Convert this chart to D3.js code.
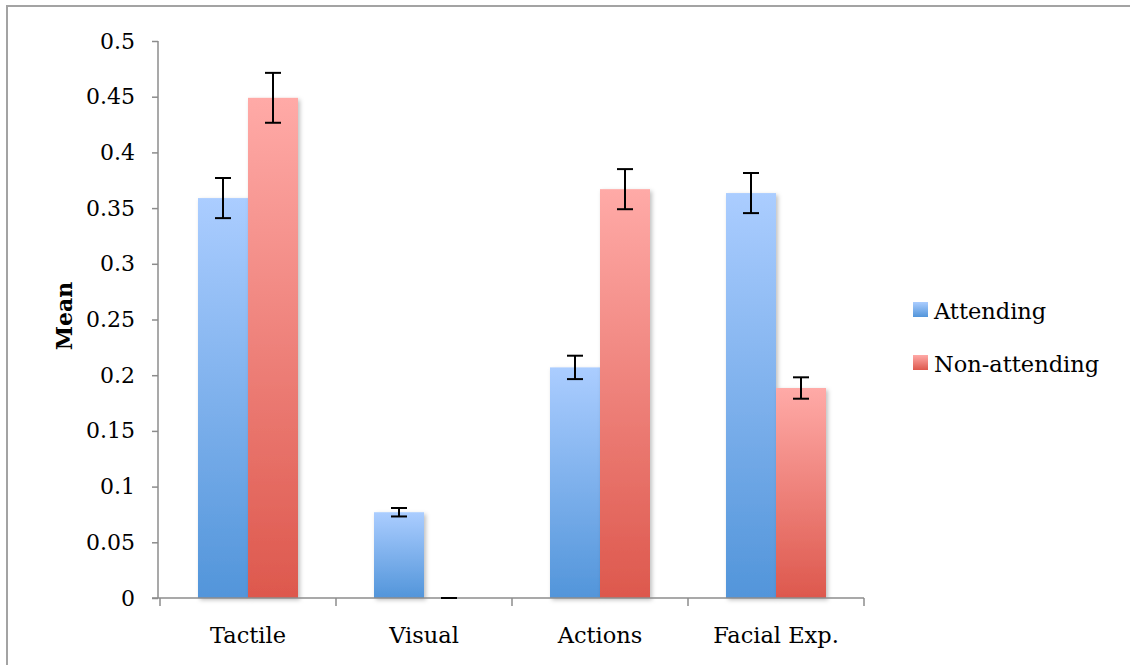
<!DOCTYPE html>
<html>
<head>
<meta charset="utf-8">
<script src="https://cdn.jsdelivr.net/npm/d3@7"></script>
<style>
  html, body { margin: 0; padding: 0; background: #fff; }
  svg { display: block; }
  text { font-family: "DejaVu Serif", serif; fill: #000; }
</style>
</head>
<body>
<svg id="chart" width="1130" height="665"></svg>
<script>
const categories = ["Tactile", "Visual", "Actions", "Facial Exp."];
const seriesNames = ["Attending", "Non-attending"];
const attending = [0.359, 0.077, 0.207, 0.3635];
const attendingErr = [0.018, 0.0038, 0.0105, 0.018];
const nonAttending = [0.449, 0.0, 0.367, 0.1885];
const nonAttendingErr = [0.0224, 0.0, 0.018, 0.0096];
const yTicks = [0, 0.05, 0.1, 0.15, 0.2, 0.25, 0.3, 0.35, 0.4, 0.45, 0.5];

const svg = d3.select("#chart");
const W = 1130, H = 665;

const x0 = 160, x1 = 864, yTop = 41, yBottom = 598;

const defs = svg.append("defs");
const gradBlue = defs.append("linearGradient").attr("id", "gBlue")
  .attr("x1", 0).attr("y1", 0).attr("x2", 0).attr("y2", 1);
gradBlue.append("stop").attr("offset", "0%").attr("stop-color", "#abcdff");
gradBlue.append("stop").attr("offset", "100%").attr("stop-color", "#5295da");
const gradRed = defs.append("linearGradient").attr("id", "gRed")
  .attr("x1", 0).attr("y1", 0).attr("x2", 0).attr("y2", 1);
gradRed.append("stop").attr("offset", "0%").attr("stop-color", "#ffaaa7");
gradRed.append("stop").attr("offset", "100%").attr("stop-color", "#dd584d");
const shadow = defs.append("filter").attr("id", "shadow")
  .attr("x", "-20%").attr("y", "-20%").attr("width", "150%").attr("height", "150%");
shadow.append("feDropShadow").attr("dx", 2).attr("dy", 2).attr("stdDeviation", 2)
  .attr("flood-color", "#000").attr("flood-opacity", 0.25);

// outer frame (top and left only visible)
svg.append("line").attr("x1", 6).attr("x2", W).attr("y1", 6).attr("y2", 6)
  .attr("stroke", "#a3a3a3").attr("stroke-width", 2);
svg.append("line").attr("x1", 7).attr("x2", 7).attr("y1", 5).attr("y2", H)
  .attr("stroke", "#a3a3a3").attr("stroke-width", 2);

const x = d3.scaleBand().domain(categories).range([x0, x1]).paddingInner(0).paddingOuter(0);
// inner group: 100px wide centered in 176px band
const groupW = x.bandwidth() * (100 / 176);
const xInner = d3.scaleBand().domain(seriesNames)
  .range([(x.bandwidth() - groupW) / 2, (x.bandwidth() + groupW) / 2]);
const y = d3.scaleLinear().domain([0, 0.5]).range([yBottom, yTop]);

// bars
const data = [];
categories.forEach((c, i) => {
  data.push({ cat: c, s: seriesNames[0], v: attending[i], e: attendingErr[i], fill: "url(#gBlue)" });
  data.push({ cat: c, s: seriesNames[1], v: nonAttending[i], e: nonAttendingErr[i], fill: "url(#gRed)" });
});

svg.append("g").selectAll("rect").data(data.filter(d => d.v > 0)).join("rect")
  .attr("x", d => x(d.cat) + xInner(d.s))
  .attr("y", d => y(d.v))
  .attr("width", xInner.bandwidth())
  .attr("height", d => y(0) - y(d.v))
  .attr("fill", d => d.fill)
  .attr("filter", "url(#shadow)");

// axes
const axisColor = "#8c8c8c";
const yAxis = svg.append("g").attr("transform", `translate(${x0 - 2},0)`)
  .call(d3.axisLeft(y).tickValues(yTicks).tickFormat(d => String(d)).tickSize(6).tickPadding(17));
yAxis.select(".domain").attr("stroke", axisColor).attr("stroke-width", 1.5).attr("d", `M0,${yTop}V${yBottom}`);
yAxis.selectAll(".tick line").attr("stroke", axisColor).attr("stroke-width", 1.5);
yAxis.selectAll(".tick text").attr("font-family", "DejaVu Serif").attr("font-size", 22).attr("fill", "#000");

const xAxis = svg.append("g").attr("transform", `translate(0,${yBottom})`)
  .call(d3.axisBottom(x).tickSize(0).tickPadding(29));
xAxis.select(".domain").attr("stroke", axisColor).attr("stroke-width", 1.5).attr("d", `M${x0 - 8},0H${x1}`);
xAxis.selectAll(".tick text").attr("font-family", "DejaVu Serif").attr("font-size", 22.5).attr("fill", "#000");
const boundaries = d3.range(categories.length + 1).map(i => x0 + i * x.bandwidth());
xAxis.selectAll(".bound").data(boundaries).join("line").attr("class", "bound")
  .attr("x1", d => d).attr("x2", d => d).attr("y1", 0).attr("y2", 8)
  .attr("stroke", axisColor).attr("stroke-width", 1.5);

// error bars
const cap = 8;
const eg = svg.append("g").attr("stroke", "#000").attr("stroke-width", 2).attr("fill", "none");
data.forEach(d => {
  const cx = x(d.cat) + xInner(d.s) + xInner.bandwidth() / 2;
  const yh = y(d.v + d.e), yl = y(Math.max(0, d.v - d.e));
  eg.append("line").attr("x1", cx).attr("x2", cx).attr("y1", yh).attr("y2", yl);
  eg.append("line").attr("x1", cx - cap).attr("x2", cx + cap).attr("y1", yh).attr("y2", yh);
  eg.append("line").attr("x1", cx - cap).attr("x2", cx + cap).attr("y1", yl).attr("y2", yl);
});

// y label
svg.append("text")
  .attr("transform", `translate(72,316) rotate(-90)`)
  .attr("text-anchor", "middle")
  .attr("font-size", 22).attr("font-weight", "bold")
  .text("Mean");

// legend
const legend = svg.append("g");
const legFills = ["url(#gBlue)", "url(#gRed)"];
seriesNames.forEach((s, i) => {
  const ly = 302 + i * 53;
  legend.append("rect").attr("x", 913).attr("y", ly).attr("width", 15).attr("height", 15)
    .attr("fill", legFills[i]);
  legend.append("text").attr("x", 934).attr("y", ly + 17)
    .attr("font-size", 22.5).text(s);
});
</script>
</body>
</html>
